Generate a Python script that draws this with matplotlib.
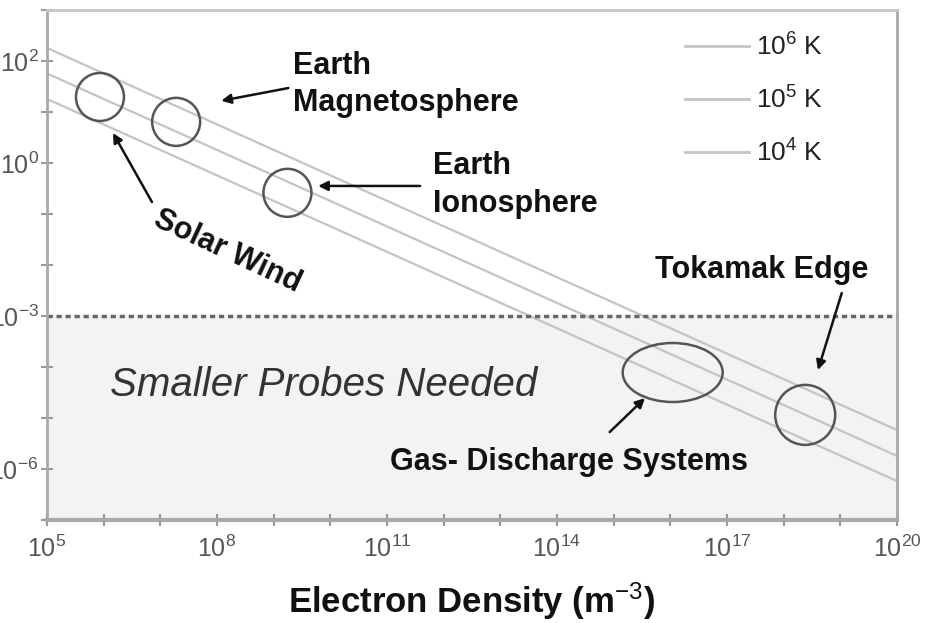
import matplotlib
matplotlib.use('Agg')
import matplotlib.pyplot as plt
from matplotlib.patches import Ellipse
from matplotlib.transforms import ScaledTranslation
from matplotlib.lines import Line2D
from matplotlib.ticker import NullLocator

plt.rcParams['font.family'] = ['Liberation Sans', 'DejaVu Sans']
plt.rcParams['mathtext.fontset'] = 'custom'
plt.rcParams['mathtext.rm'] = 'Liberation Sans'
plt.rcParams['mathtext.it'] = 'Liberation Sans:italic'
plt.rcParams['mathtext.bf'] = 'Liberation Sans:bold'

# --- data ---
density_ends = [1e5, 1e20]                     # m^-3
debye_1e6K = [180, 5.8e-6]                     # Debye length at the two ends
debye_1e5K = [57, 1.8e-6]
debye_1e4K = [18, 5.8e-7]
temp_labels = [r'$10^{6}$ K', r'$10^{5}$ K', r'$10^{4}$ K']

plasma_names = ['Solar Wind', 'Earth Magnetosphere', 'Earth Ionosphere',
                'Gas- Discharge Systems', 'Tokamak Edge']
plasma_density = [8.6e5, 1.9e7, 1.75e9, 1.1e16, 2.4e18]
plasma_length = [19.7, 6.4, 0.26, 7.8e-5, 1.15e-5]
plasma_size_in = [(0.48, 0.48), (0.48, 0.48), (0.48, 0.48), (1.0, 0.59), (0.60, 0.60)]

probe_limit = 1e-3
x_exp = list(range(5, 21))
x_label_exp = [5, 8, 11, 14, 17, 20]
y_exp = list(range(-7, 4))
y_label_exp = [2, 0, -3, -6]

# --- figure ---
fig = plt.figure(figsize=(9.33, 6.23), dpi=100)
fig.patch.set_facecolor('white')
ax = fig.add_axes([47 / 933, 1 - 520 / 623, 850 / 933, 510 / 623])
ax.set_xscale('log'); ax.set_yscale('log')
ax.set_xlim(1e5, 1e20); ax.set_ylim(1e-7, 1e3)

ax.axhspan(1e-7, probe_limit, color='#f3f3f3', zorder=0)
ax.axhline(probe_limit, color='#666666', lw=2.5, ls=(0, (1.5, 1.1)), dash_capstyle='butt', zorder=2)

line_color = '#c4c4c4'
for vals in [debye_1e6K, debye_1e5K, debye_1e4K]:
    ax.plot(density_ends, vals, color=line_color, lw=1.6, zorder=1)

for x, y, (w, h) in zip(plasma_density, plasma_length, plasma_size_in):
    e = Ellipse((0, 0), w, h, fill=False, ec='#555555', lw=1.8, zorder=3,
                transform=fig.dpi_scale_trans + ScaledTranslation(x, y, ax.transData))
    ax.add_patch(e)

# ticks
ax.set_xticks([10.0 ** k for k in x_exp])
ax.set_xticklabels([f'$10^{{{k}}}$' if k in x_label_exp else '' for k in x_exp])
ax.set_yticks([10.0 ** k for k in y_exp])
ax.set_yticklabels([f'$10^{{{k}}}$' if k in y_label_exp else '' for k in y_exp])
ax.xaxis.set_minor_locator(NullLocator()); ax.yaxis.set_minor_locator(NullLocator())
ax.tick_params(direction='inout', length=8, width=1.5, color='#999999', labelcolor='#555555', labelsize=18)
ax.tick_params(axis='x', pad=7)
ax.tick_params(axis='y', pad=2)
for s in ax.spines.values():
    s.set_color('#a8a8a8'); s.set_linewidth(2)
ax.spines['top'].set_color('#c8c8c8')
ax.spines['bottom'].set_linewidth(3)

ax.set_xlabel(r'Electron Density (m$^{-3}$)', fontsize=25, fontweight='bold', color='#111111')
ax.xaxis.set_label_coords(0.5, (520 - 580) / 510)

# legend
handles = [Line2D([], [], color=line_color, lw=2) for _ in temp_labels]
leg = ax.legend(handles, temp_labels, loc='upper right', bbox_to_anchor=(0.913, 0.955),
                frameon=False, fontsize=19, handlelength=2.45, handletextpad=0.25,
                labelspacing=0.98, borderpad=0, borderaxespad=0)
for t in leg.get_texts():
    t.set_color('#222222')

# annotations
txt = dict(fontsize=22, fontweight='bold', color='#111111', xycoords='axes fraction', textcoords='axes fraction')
arr = dict(arrowstyle='-|>', color='#111111', lw=1.8, mutation_scale=14, shrinkA=0, shrinkB=0)

ax.annotate('', xy=(0.205, 0.822), xytext=(0.284, 0.847), arrowprops=arr, **txt)
ax.annotate('Earth\nMagnetosphere', xy=(0.289, 0.92), va='top', ha='left', linespacing=1.3, **txt)

ax.annotate('', xy=(0.319, 0.655), xytext=(0.439, 0.655), arrowprops=arr, **txt)
ax.annotate('Earth\nIonosphere', xy=(0.454, 0.724), va='top', ha='left', linespacing=1.35, **txt)

ax.annotate('', xy=(0.0776, 0.759), xytext=(0.1235, 0.6235), arrowprops=arr, **txt)
ax.annotate('Solar Wind', xy=(0.212, 0.527), va='center', ha='center', rotation=-25, rotation_mode='anchor', **txt)

ax.annotate('', xy=(0.907, 0.294), xytext=(0.935, 0.445), arrowprops=arr, **txt)
ax.annotate('Tokamak Edge', xy=(0.715, 0.49), va='center', ha='left', **txt)

ax.annotate('', xy=(0.7035, 0.239), xytext=(0.662, 0.1725), arrowprops=arr, **txt)
ax.annotate('Gas- Discharge Systems', xy=(0.4035, 0.1137), va='center', ha='left', **txt)

ax.text(0.074, 0.2647, 'Smaller Probes Needed', transform=ax.transAxes, fontsize=29,
        style='italic', color='#333333', va='center', ha='left')

fig.savefig('out.png', dpi=100)
